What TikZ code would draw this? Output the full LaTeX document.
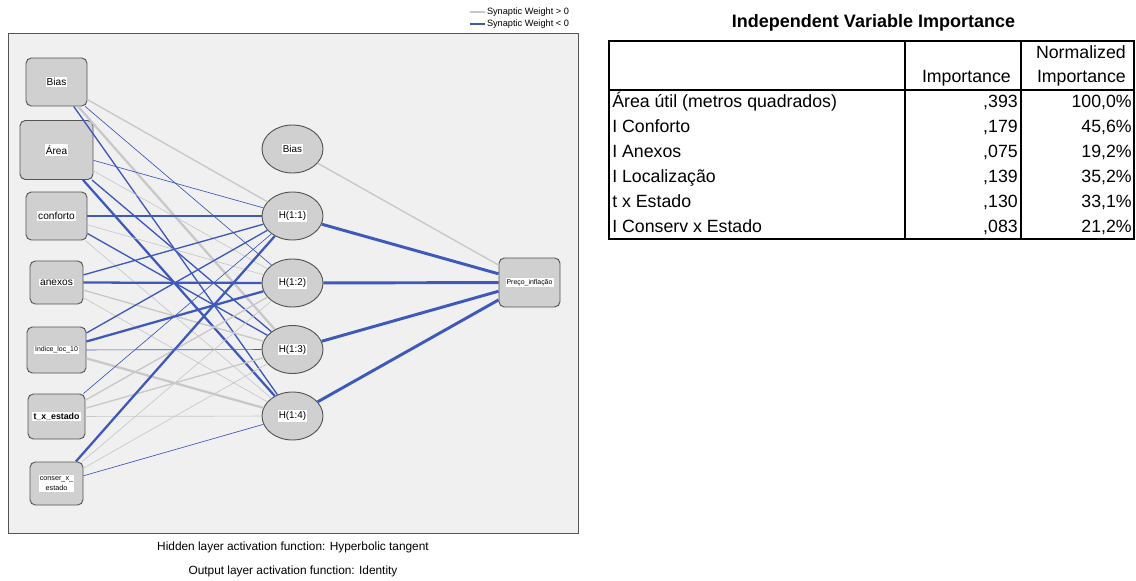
\documentclass[tikz,border=0pt]{standalone}
\usepackage{fontspec}
\setmainfont{Liberation Sans}
\usetikzlibrary{shapes.geometric}
\definecolor{negblue}{RGB}{62,88,188}
\definecolor{posgray}{RGB}{200,200,200}
\definecolor{panelbg}{RGB}{240,240,240}
\definecolor{nodegray}{RGB}{208,208,208}
\definecolor{rimgray}{RGB}{85,85,85}
\newcommand{\nlab}[1]{{\setlength{\fboxsep}{0.8pt}\colorbox{white}{#1}}}
\newcommand{\dc}{,}

\begin{document}
\begin{tikzpicture}[x=0.75pt,y=-0.75pt,
		inbox/.style 2 args={draw=rimgray, fill=nodegray, rounded corners=4pt, line width=0.7pt, inner sep=0pt,
			minimum width=#1*0.75pt, minimum height=#2*0.75pt, font=\fontsize{7.6}{8}\selectfont},
		hidnode/.style={ellipse, draw=rimgray, fill=nodegray, line width=0.7pt, inner sep=0pt,
			minimum width=45.75pt, minimum height=36pt, font=\fontsize{7.4}{8}\selectfont},
		pw1/.style={draw=posgray, line width=0.5pt},
		pw2/.style={draw=posgray, line width=1pt},
		pw3/.style={draw=posgray, line width=1.7pt},
		nw1/.style={draw=negblue, line width=0.5pt},
		nw2/.style={draw=negblue, line width=1pt},
		nw3/.style={draw=negblue, line width=1.7pt},
		nw4/.style={draw=negblue, line width=2.2pt},
		cell/.style={inner sep=0pt, font=\fontsize{13.3}{14}\selectfont},
		note/.style={inner sep=0pt, font=\fontsize{8.9}{10}\selectfont}]
		\useasboundingbox (0,0) rectangle (1136,581);
		% Draw panel and legend.
		\draw[rimgray, fill=panelbg, line width=0.7pt] (8,33) rectangle (578,533);
		\coordinate (lg1) at (470,12); \coordinate (lg2) at (470,24);
		\draw[pw2] (lg1) -- ++(15,0) node[right=1pt, inner sep=0pt, black, font=\fontsize{6.9}{7}\selectfont] (lgt1) {Synaptic Weight > 0};
		\draw[nw2] (lg2) -- ++(15,0) node[right=1pt, inner sep=0pt, black, font=\fontsize{6.9}{7}\selectfont] (lgt2) {Synaptic Weight < 0};
		
		% Input layer.
		\node[inbox={61}{48}] (ib) at (56.5,82) {\nlab{Bias}};
		\node[inbox={73}{59}] (i1) at (56.5,150) {\nlab{Área}};
		\node[inbox={61}{48}] (i2) at (56.5,216) {\nlab{conforto}};
		\node[inbox={53}{43}] (i3) at (56.5,282.5) {\nlab{anexos}};
		\node[inbox={59}{46}, font=\fontsize{5.2}{6}\selectfont] (i4) at (56.5,350) {\nlab{Indice\_loc\_10}};
		\node[inbox={57}{45}, font=\fontsize{6.6}{7}\selectfont\bfseries] (i5) at (56.5,416.5) {\nlab{t\_x\_estado}};
		\node[inbox={53}{43}, font=\fontsize{5.4}{6}\selectfont] (i6) at (56.5,483.5) {\nlab{\shortstack{conser\_x\_\\estado}}};
		
		% Hidden layer and output.
		\node[hidnode] (hb) at (292.5,149) {\nlab{Bias}};
		\node[hidnode] (h1) at (292.5,216) {\nlab{H(1:1)}};
		\node[hidnode] (h2) at (292.5,283) {\nlab{H(1:2)}};
		\node[hidnode] (h3) at (292.5,349.5) {\nlab{H(1:3)}};
		\node[hidnode] (h4) at (292.5,416) {\nlab{H(1:4)}};
		\node[inbox={61}{49}, font=\fontsize{5.2}{6}\selectfont] (out) at (529.5,282.5) {\nlab{Preço\_inflação}};
		
		% Synaptic weights.
		\foreach \a/\b/\s in {ib/h1/pw2, ib/h2/nw1, ib/h3/pw3, ib/h4/nw2,
			i1/h1/nw1, i1/h2/pw1, i1/h3/nw2, i1/h4/nw3,
			i2/h1/nw2, i2/h2/pw1, i2/h3/nw2, i2/h4/pw1,
			i3/h1/nw2, i3/h2/nw3, i3/h3/pw2, i3/h4/pw1,
			i4/h1/nw2, i4/h2/nw3, i4/h3/nw1, i4/h4/pw3,
			i5/h1/nw1, i5/h2/pw2, i5/h3/pw2, i5/h4/pw1,
			i6/h1/nw3, i6/h2/pw1, i6/h3/pw1, i6/h4/nw1,
			hb/out/pw2, h1/out/nw4, h2/out/nw4, h3/out/nw4, h4/out/nw4}
		\draw[\s] (\a) -- (\b);
		
		% Activation notes.
		\node[note] (n1) at (293,547) {Hidden layer activation function: Hyperbolic tangent};
		\node[note] (n2) at (293,571) {Output layer activation function: Identity};
		
		% Importance table.
		\node[inner sep=0pt, font=\fontsize{13.5}{14}\selectfont\bfseries, anchor=base] (ttl) at (873.5,27.5) {Independent Variable Importance};
		\draw[line width=1.5pt] (609,90) -- (1134,90) (905,41) -- (905,239) (1021,41) -- (1021,239);
		\draw[line width=2.2pt] (609,41) rectangle (1134,239);
		\node[cell, anchor=base east] (hc1) at (1011,83) {Importance};
		\node[cell, anchor=base east] (hc2) at (1126,59) {Normalized};
		\node[cell, anchor=base east] (hc3) at (1126,83) {Importance};
		\foreach \lab/\imp/\nrm [count=\k] in {Área útil (metros quadrados)/\dc393/100\dc0\%,
			I Conforto/\dc179/45\dc6\%, I Anexos/\dc075/19\dc2\%, I Localização/\dc139/35\dc2\%,
			t x Estado/\dc130/33\dc1\%, I Conserv x Estado/\dc083/21\dc2\%}
		{
			\node[cell, anchor=base west] (rl\k) at (612,82+25.1*\k) {\lab};
			\node[cell, anchor=base east] (ri\k) at (1018,82+25.1*\k) {\imp};
			\node[cell, anchor=base east] (rn\k) at (1132,82+25.1*\k) {\nrm};
		}
	\end{tikzpicture}
\end{document}
